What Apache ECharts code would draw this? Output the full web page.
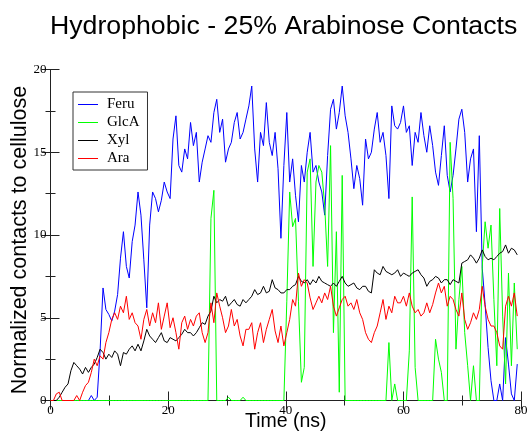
<!DOCTYPE html>
<html>
<head>
<meta charset="utf-8">
<script src="https://cdn.jsdelivr.net/npm/echarts@6/dist/echarts.min.js"></script>
<style>html,body{margin:0;padding:0;background:#fff;}#c{width:528px;height:438px;}</style>
</head>
<body>
<div id="c"></div>
<script>
// sampling times (ns)
const timeNs = [
0,0.50,0.99,1.49,1.98,2.48,2.98,3.47,3.97,4.46,4.96,5.46,5.95,6.45,6.94,7.44,7.94,8.43,8.93,9.42,
9.92,10.42,10.91,11.41,11.90,12.40,12.90,13.39,13.89,14.38,14.88,15.38,15.87,16.37,16.86,17.36,17.86,18.35,18.85,19.34,
19.84,20.34,20.83,21.33,21.82,22.32,22.82,23.31,23.81,24.30,24.80,25.30,25.79,26.29,26.78,27.28,27.78,28.27,28.77,29.26,
29.76,30.26,30.75,31.25,31.74,32.24,32.74,33.23,33.73,34.22,34.72,35.22,35.71,36.21,36.70,37.20,37.70,38.19,38.69,39.18,
39.68,40.18,40.67,41.17,41.66,42.16,42.66,43.15,43.65,44.14,44.64,45.14,45.63,46.13,46.62,47.12,47.62,48.11,48.61,49.10,
49.60,50.10,50.59,51.09,51.58,52.08,52.58,53.07,53.57,54.06,54.56,55.06,55.55,56.05,56.54,57.04,57.54,58.03,58.53,59.02,
59.52,60.02,60.51,61.01,61.50,62.00,62.50,62.99,63.49,63.98,64.48,64.98,65.47,65.97,66.46,66.96,67.46,67.95,68.45,68.94,
69.44,69.94,70.43,70.93,71.42,71.92,72.42,72.91,73.41,73.90,74.40,74.90,75.39,75.89,76.38,76.88,77.38,77.87,78.37,78.86,
79.36];

const feru = [
0,0,0,0,0,0,0,0,0,0,0,0,0,0,0.3,0,0.2,3.0,6.8,5.5,
5.2,4.8,5.4,6.4,8.6,10.2,8.1,7.4,9.6,10.6,12.6,11.2,8.5,5.6,10.6,12.6,12.2,11.4,12.1,13.2,
12.6,12.2,15.8,17.2,14.2,13.8,15.2,14.6,16.8,15.4,16.2,13.2,14.4,15.2,16.0,15.6,17.4,18.2,16.2,17.0,
14.4,15.2,15.6,16.8,17.4,15.8,16.2,17.0,17.8,19.0,15.2,13.2,16.2,15.4,18.0,15.6,14.8,16.2,14.0,9.8,
14.2,17.4,13.2,14.6,12.4,10.8,14.2,13.2,15.0,16.2,13.8,14.2,13.2,12.6,11.2,14.8,17.6,18.2,16.4,17.4,
19.0,17.2,16.2,14.6,12.8,14.2,13.4,11.8,15.8,14.6,15.0,16.4,17.4,15.6,16.2,14.8,12.2,17.8,16.6,16.4,
16.8,17.8,16.2,16.6,14.2,16.2,15.6,17.4,16.0,15.0,16.6,15.4,13.8,13.0,14.8,16.6,13.6,12.6,13.6,15.2,
17.0,17.6,16.2,13.2,14.6,15.2,10.2,16.0,8.0,5.8,3.2,1.2,0,0,1.0,0,3.8,2.2,0.4,0,
2.2];

const glca = [
0,0,0,0,0,0,0,0,0,0,0,0,0,0,0,0,0,0,0,0,
0,0,0,0,0,0,0,0,0,0,0,0,0,0,0,0,0,0,0,0,
0,0,0,0,0,0,0,0,0,0,0,0,0,0,0,11.0,12.7,0,0,0,
0,0.2,0,0,0,0,0.2,0,0,0,0,0,0,0,0,0,0,0,0,0,
0,6.0,12.6,10.5,11.0,6.0,1.1,2.0,13.8,14.6,8.1,13.2,14.2,13.8,11.8,8.1,15.4,4.1,10.2,0.5,
13.6,0,0,0,0,0,0,0,0,0,0,0,0,0,0,0,3.5,0,1.0,0,
0,0,0,3.0,12.3,2.0,0,0,0,0,0,0,3.7,2.5,1.7,0,0,15.6,12.2,3.1,
6.1,8.1,4.1,2.1,0,2.1,0,0,8.1,10.8,9.2,10.6,6.1,2.1,11.6,5.1,1.0,7.7,2.1,7.1,
3.1];

const xyl = [
0,0,0,0.2,0.5,0.8,1.0,1.8,2.3,2.1,1.9,1.6,2.0,1.7,2.0,2.2,2.6,3.1,2.9,2.5,
2.8,2.6,3.0,2.8,2.1,2.9,2.8,3.1,3.3,3.0,3.4,3.0,3.6,4.3,3.9,3.7,3.5,3.8,4.1,3.6,
3.5,3.8,3.7,3.6,3.8,4.0,4.3,4.1,4.1,3.9,4.1,4.4,4.7,4.6,5.1,5.4,6.3,5.9,6.1,6.0,
6.3,5.7,5.9,6.1,5.8,5.7,6.1,5.9,6.1,6.3,6.7,6.4,6.5,6.9,6.5,6.6,7.3,6.8,6.7,6.5,
6.5,6.7,6.7,6.9,7.0,7.5,7.2,7.1,7.3,7.0,7.3,7.1,7.5,7.2,7.1,7.0,6.9,7.1,6.9,7.2,
7.5,7.1,6.9,7.0,7.1,6.8,6.7,6.9,6.9,6.6,6.5,7.9,7.7,7.6,8.1,7.8,7.7,7.6,7.7,7.9,
7.5,7.7,7.6,7.5,7.7,7.8,7.9,7.6,7.4,6.9,7.2,7.3,7.5,7.4,7.1,7.3,7.3,7.0,7.3,7.2,
7.1,8.3,8.4,8.5,8.8,8.6,8.3,8.6,9.1,8.7,8.5,8.6,8.5,8.7,8.9,9.0,9.4,8.9,9.2,9.1,
8.8];

const ara = [
0,0,0.4,0.5,0,0,0,0,0,0.3,0,0.5,0.9,1.1,1.7,2.5,2.1,2.7,2.5,3.5,
4.1,4.9,5.3,4.9,5.7,5.3,6.3,4.9,5.3,4.7,4.5,3.7,4.9,5.5,4.5,5.3,4.7,5.9,4.3,5.1,
5.9,4.4,5.0,4.1,3.1,4.7,5.1,4.3,4.9,4.5,5.1,5.3,4.1,3.5,4.1,5.9,4.7,6.5,5.7,5.0,
4.1,4.5,5.5,4.5,4.9,3.9,3.3,4.3,4.3,4.7,3.1,4.1,4.7,3.5,4.3,4.9,5.5,4.2,3.5,4.5,
3.3,4.1,4.9,6.1,5.7,7.7,6.9,7.3,7.1,6.2,5.5,5.9,6.3,5.9,6.5,6.1,6.9,5.7,5.1,5.6,
6.1,6.3,5.7,5.9,5.5,6.1,5.3,4.9,4.1,3.7,3.5,4.1,4.5,5.3,6.1,4.9,5.7,5.3,6.3,5.9,
5.9,6.3,5.7,6.5,5.7,5.3,5.5,5.1,5.3,5.9,5.3,5.8,6.5,7.1,6.5,6.9,5.7,6.3,6.1,5.5,
5.1,6.5,4.9,4.3,4.7,5.3,4.9,5.5,6.9,5.7,4.9,4.5,4.5,4.1,3.3,3.1,5.7,6.3,5.7,6.5,
5.1];

const seriesNames = ['Feru', 'GlcA', 'Xyl', 'Ara'];
const seriesColors = ['#0000ff', '#00ff00', '#000000', '#ff0000'];
const seriesValues = [feru, glca, xyl, ara];
const xTicks = [0, 20, 40, 60, 80];
const yTicks = [0, 5, 10, 15, 20];

const chart = echarts.init(document.getElementById('c'), null, {renderer: 'canvas'});

function pairs(vals) { return vals.map((v, i) => [timeNs[i], v]); }

const axisCommon = {
  axisLine: {show: true, lineStyle: {color: '#222', width: 1}},
  axisTick: {show: true, inside: true, length: 9, lineStyle: {color: '#222'}},
  minorTick: {show: true, splitNumber: 2, length: 5, lineStyle: {color: '#222'}},
  splitLine: {show: false}
};

const option = {
  animation: false,
  backgroundColor: '#ffffff',
  title: {
    text: 'Hydrophobic - 25% Arabinose Contacts',
    left: 50, top: 13, padding: 0,
    textStyle: {fontFamily: 'Liberation Sans', fontSize: 26.7, fontWeight: 'normal', color: '#000'}
  },
  legend: {
    data: seriesNames,
    orient: 'vertical',
    left: 73, top: 92,
    padding: [5, 8, 4, 5],
    itemGap: 3,
    itemWidth: 20, itemHeight: 1,
    icon: 'rect',
    backgroundColor: '#fff',
    borderColor: '#333', borderWidth: 1, borderRadius: 0,
    textStyle: {fontFamily: 'Liberation Serif', fontSize: 15, color: '#000', padding: [0, 0, 0, 4], lineHeight: 15}
  },
  grid: {left: 50.5, right: 7, top: 69.5, bottom: 37.5, containLabel: false, outerBoundsMode: 'none'},
  xAxis: [
    Object.assign({}, axisCommon, {
      type: 'value', min: 0, max: 80, interval: 20,
      name: 'Time (ns)', nameLocation: 'middle', nameGap: 11, nameMoveOverlap: false,
      nameTextStyle: {fontFamily: 'Liberation Sans', fontSize: 19.5, color: '#000'},
      axisLabel: {show: true, margin: 4, fontFamily: 'Liberation Serif', fontSize: 13, color: '#000',
        formatter: v => xTicks.includes(v) ? String(v) : ''}
    }),
    Object.assign({}, axisCommon, {
      type: 'value', min: 0, max: 80, interval: 20, position: 'top',
      axisLabel: {show: false}
    })
  ],
  yAxis: [
    Object.assign({}, axisCommon, {
      type: 'value', min: 0, max: 20, interval: 5,
      name: 'Normalized contacts to cellulose', nameLocation: 'middle', nameGap: 19, nameMoveOverlap: false,
      nameTextStyle: {fontFamily: 'Liberation Sans', fontSize: 21.5, color: '#000', padding: [0, 10, 0, 0]},
      axisLabel: {show: true, margin: 4, fontFamily: 'Liberation Serif', fontSize: 13, color: '#000',
        formatter: v => yTicks.includes(v) ? String(v) : ''}
    }),
    Object.assign({}, axisCommon, {
      type: 'value', min: 0, max: 20, interval: 5, position: 'right',
      axisLabel: {show: false}
    })
  ],
  series: seriesNames.map((n, k) => ({
    name: n, type: 'line', data: pairs(seriesValues[k]),
    showSymbol: false, symbol: 'none', clip: true,
    lineStyle: {color: seriesColors[k], width: 1},
    itemStyle: {color: seriesColors[k]},
    emphasis: {disabled: true}
  }))
};
chart.setOption(option);
</script>
</body>
</html>
